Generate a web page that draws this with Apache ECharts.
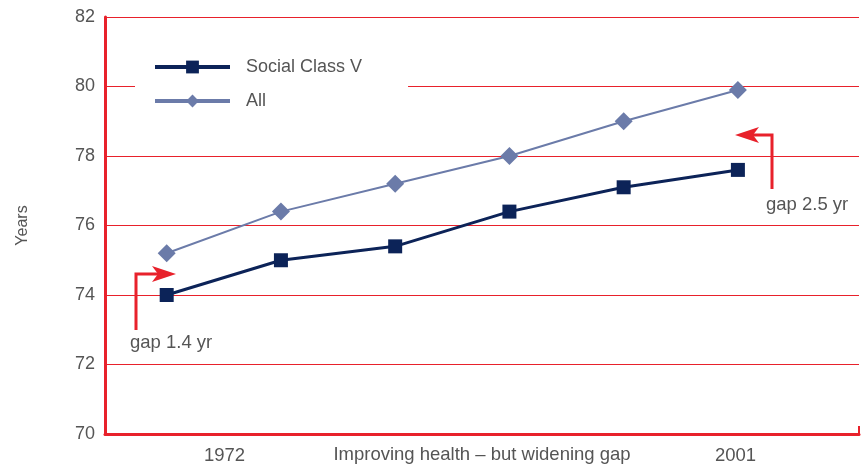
<!DOCTYPE html>
<html>
<head>
<meta charset="utf-8">
<script src="https://cdn.jsdelivr.net/npm/echarts@6/dist/echarts.min.js"></script>
<style>html,body{margin:0;padding:0;background:#fff;}#c{width:861px;height:466px;}</style>
</head>
<body>
<div id="c"></div>
<script>
var pointIndex = [0, 1, 2, 3, 4, 5];
var socialClassV = [74.0, 75.0, 75.4, 76.4, 77.1, 77.6];
var allClasses = [75.2, 76.4, 77.2, 78.0, 79.0, 79.9];
var yTicks = [70, 72, 74, 76, 78, 80, 82];
var xLabels = ['1972', '2001'];
var xTitle = 'Improving health \u2013 but widening gap';
var seriesNames = ['Social Class V', 'All'];
var gapLabels = ['gap 1.4 yr', 'gap 2.5 yr'];

var RED = '#e8212b';
var NAVY = '#0c2358';
var SLATE = '#6b7ba9';
var chart = echarts.init(document.getElementById('c'));
function pairs(v) { return pointIndex.map(function (x, i) { return [x, v[i]]; }); }

chart.setOption({
  animation: false,
  backgroundColor: '#fff',
  textStyle: { fontFamily: 'Liberation Sans, Arial, sans-serif' },
  grid: { left: 105, right: 2, top: 17, bottom: 32, outerBoundsMode: 'none', containLabel: false },
  xAxis: {
    type: 'value', min: -0.54, max: 6.06,
    axisLine: { show: true, onZero: false, lineStyle: { color: RED, width: 3 } },
    axisTick: { show: false }, axisLabel: { show: false }, splitLine: { show: false },
    name: xTitle, nameLocation: 'middle', nameGap: 11,
    nameTextStyle: { color: '#555', fontSize: 18.5, verticalAlign: 'top' }
  },
  yAxis: {
    type: 'value', min: yTicks[0], max: yTicks[yTicks.length - 1], interval: 2,
    axisLine: { show: true, onZero: false, lineStyle: { color: RED, width: 3 } },
    axisTick: { show: false },
    axisLabel: { color: '#555', fontSize: 18, margin: 10 },
    splitLine: { show: true, lineStyle: { color: RED, width: 1 } },
    name: 'Years', nameLocation: 'middle', nameGap: 74, nameRotate: 90,
    nameTextStyle: { color: '#555', fontSize: 16 }
  },
  legend: {
    orient: 'vertical', left: 135, top: 50,
    backgroundColor: '#fff',
    padding: [8, 46, 8, 18],
    itemWidth: 75, itemHeight: 16, itemGap: 16,
    textStyle: { color: '#555', fontSize: 18, padding: [0, 0, 0, 11] },
    data: [
      { name: seriesNames[0], lineStyle: { width: 4 } },
      { name: seriesNames[1], lineStyle: { width: 4 } }
    ]
  },
  series: [
    {
      name: seriesNames[0], type: 'line', data: pairs(socialClassV),
      symbol: 'rect', symbolSize: 14,
      itemStyle: { color: NAVY }, lineStyle: { color: NAVY, width: 3 }, z: 4
    },
    {
      name: seriesNames[1], type: 'line', data: pairs(allClasses),
      symbol: 'diamond', symbolSize: 18,
      itemStyle: { color: SLATE }, lineStyle: { color: SLATE, width: 2 }, z: 3
    }
  ],
  graphic: [
    { type: 'text', left: 204, top: 446, style: { text: xLabels[0], fill: '#555', font: '18.5px "Liberation Sans", sans-serif' } },
    { type: 'text', left: 715, top: 446, style: { text: xLabels[1], fill: '#555', font: '18.5px "Liberation Sans", sans-serif' } },
    { type: 'line', shape: { x1: 859, y1: 426, x2: 859, y2: 435 }, style: { stroke: RED, lineWidth: 2 } },
    // left arrow
    { type: 'polyline', shape: { points: [[136, 330], [136, 274], [162, 274]] }, style: { stroke: RED, lineWidth: 3, fill: null } },
    { type: 'polygon', shape: { points: [[176, 274], [152, 266], [158, 274], [152, 282]] }, style: { fill: RED } },
    { type: 'text', left: 130, top: 333, style: { text: gapLabels[0], fill: '#555', font: '18.5px "Liberation Sans", sans-serif' } },
    // right arrow
    { type: 'polyline', shape: { points: [[772, 189], [772, 135], [748, 135]] }, style: { stroke: RED, lineWidth: 3, fill: null } },
    { type: 'polygon', shape: { points: [[735, 135], [759, 127], [753, 135], [759, 143]] }, style: { fill: RED } },
    { type: 'text', left: 766, top: 195, style: { text: gapLabels[1], fill: '#555', font: '18.5px "Liberation Sans", sans-serif' } }
  ]
});
</script>
</body>
</html>
